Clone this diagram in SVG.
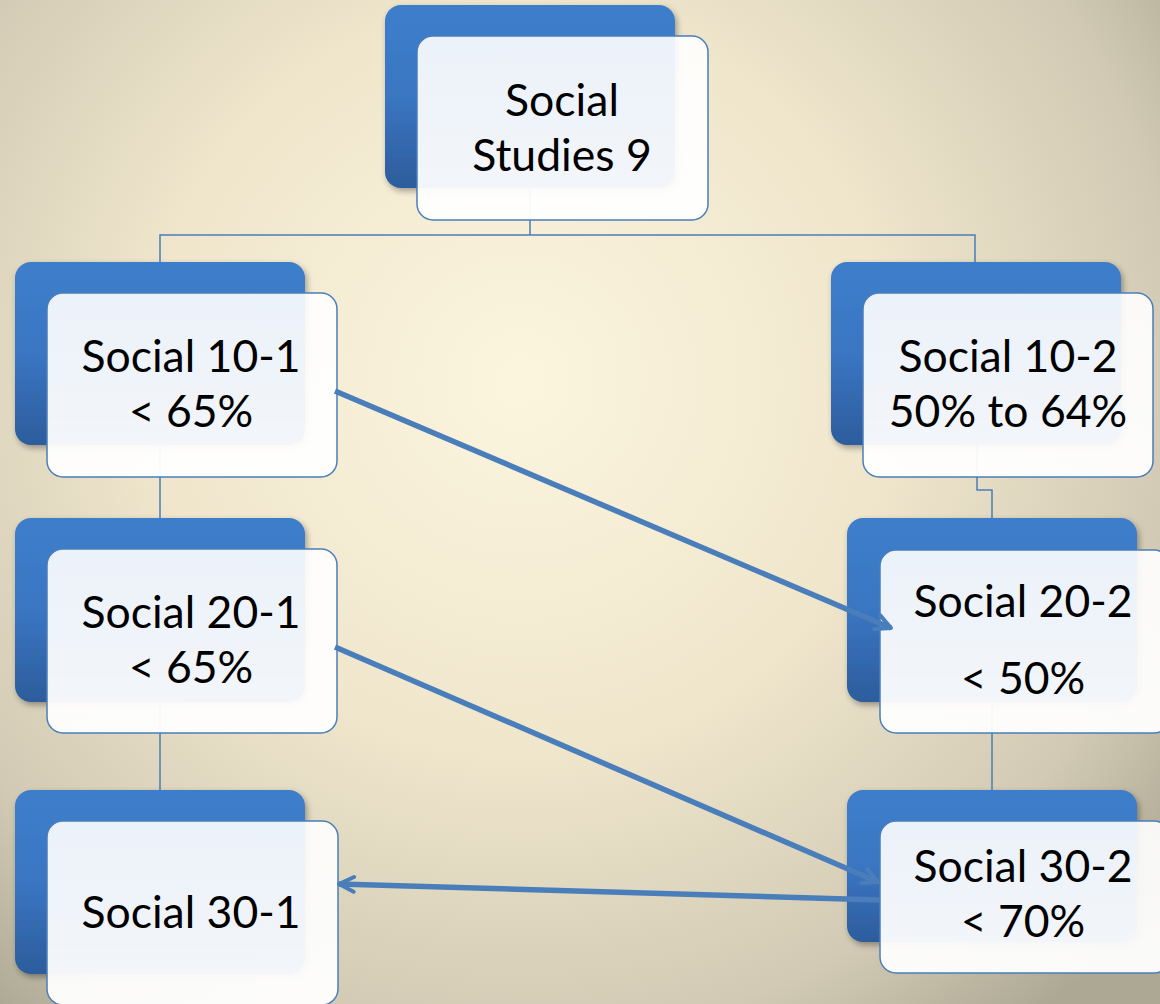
<svg xmlns="http://www.w3.org/2000/svg" width="1160" height="1004" viewBox="0 0 1160 1004">
<defs>
<radialGradient id="bg" cx="520" cy="380" r="820" gradientUnits="userSpaceOnUse">
<stop offset="0" stop-color="#FCF5DE"/>
<stop offset="0.45" stop-color="#EFE6CC"/>
<stop offset="0.8" stop-color="#D2CAB4"/>
<stop offset="1" stop-color="#ADA894"/>
</radialGradient>
<linearGradient id="blue" x1="0" y1="0" x2="0" y2="1">
<stop offset="0" stop-color="#3D7ECB"/>
<stop offset="0.5" stop-color="#3A76C2"/>
<stop offset="1" stop-color="#2D5C9C"/>
</linearGradient>
<linearGradient id="front" x1="0" y1="0" x2="0" y2="1">
<stop offset="0" stop-color="#FFFFFF" stop-opacity="0.9"/>
<stop offset="1" stop-color="#FFFFFF" stop-opacity="0.95"/>
</linearGradient>
<filter id="sh" x="-10%" y="-10%" width="130%" height="130%">
<feGaussianBlur in="SourceAlpha" stdDeviation="3"/>
<feOffset dx="2" dy="3" result="b"/>
<feComponentTransfer><feFuncA type="linear" slope="0.35"/></feComponentTransfer>
<feMerge><feMergeNode/><feMergeNode in="SourceGraphic"/></feMerge>
</filter>
<marker id="ah" viewBox="0 0 12 12" refX="10.5" refY="6" markerWidth="3.6" markerHeight="3.6" orient="auto" markerUnits="strokeWidth">
<path d="M1.5,1.5 L10.5,6 L1.5,10.5" fill="none" stroke="#4A7EBB" stroke-width="2.4" stroke-linecap="round" stroke-linejoin="round"/>
</marker>
</defs>
<style>
.back{fill:url(#blue);filter:url(#sh)}
.front{fill:url(#front);stroke:#4A7EBB;stroke-width:1.5}
.lbl{font-family:Lato,"Open Sans","Liberation Sans",sans-serif;font-size:44.5px;fill:#000;text-anchor:middle}
.tree{fill:none;stroke:#4A7EBB;stroke-width:1.5}
</style>
<rect width="1160" height="1004" fill="url(#bg)"/>
<g id="tree-connectors">
<path class="tree" d="M530,188 V235 M160,262 V235 H975 V262"/>
<path class="tree" d="M160,445 V518 M160,702 V790"/>
<path class="tree" d="M977,445 V490 H992 V518 M992,702 V790"/>
</g>
<g id="node-ss9">
<rect class="back" x="385" y="5" width="290" height="183" rx="16"/>
<rect class="front" x="417" y="36" width="291" height="184" rx="16"/>
<text class="lbl" x="562" y="116">Social</text>
<text class="lbl" x="562" y="171">Studies 9</text>
</g>
<g id="node-10-1">
<rect class="back" x="15" y="262" width="290" height="183" rx="16"/>
<rect class="front" x="47" y="293" width="290" height="184" rx="16"/>
<text class="lbl" x="191" y="372">Social 10-1</text>
<text class="lbl" x="191" y="427">&lt; 65%</text>
</g>
<g id="node-20-1">
<rect class="back" x="15" y="518" width="290" height="184" rx="16"/>
<rect class="front" x="47" y="549" width="290" height="184" rx="16"/>
<text class="lbl" x="191" y="628">Social 20-1</text>
<text class="lbl" x="191" y="683">&lt; 65%</text>
</g>
<g id="node-30-1">
<rect class="back" x="15" y="790" width="290" height="184" rx="16"/>
<rect class="front" x="47" y="821" width="291" height="184" rx="16"/>
<text class="lbl" x="191" y="928">Social 30-1</text>
</g>
<g id="node-10-2">
<rect class="back" x="831" y="262" width="290" height="183" rx="16"/>
<rect class="front" x="863" y="293" width="290" height="184" rx="16"/>
<text class="lbl" x="1008" y="372">Social 10-2</text>
<text class="lbl" x="1008" y="427">50% to 64%</text>
</g>
<g id="node-20-2">
<rect class="back" x="847" y="518" width="290" height="184" rx="16"/>
<rect class="front" x="880" y="550" width="290" height="183" rx="16"/>
<text class="lbl" x="1023" y="617">Social 20-2</text>
<text class="lbl" x="1023" y="694">&lt; 50%</text>
</g>
<g id="node-30-2">
<rect class="back" x="847" y="790" width="290" height="152" rx="16"/>
<rect class="front" x="880" y="821" width="290" height="152" rx="16"/>
<text class="lbl" x="1023" y="882">Social 30-2</text>
<text class="lbl" x="1023" y="937">&lt; 70%</text>
</g>
<g id="arrow-connectors" fill="none" stroke="#4A7EBB" stroke-width="5.5" marker-end="url(#ah)">
<path d="M335,391 L891,628"/>
<path d="M335,647 L878,882"/>
<path d="M880,900 L339,884"/>
</g>
</svg>
